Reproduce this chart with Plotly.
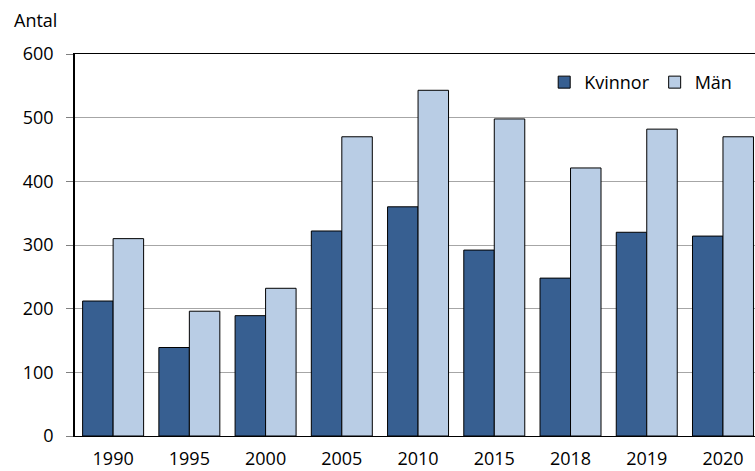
import plotly.graph_objects as go

# Antal per år och kön
years = ["1990", "1995", "2000", "2005", "2010", "2015", "2018", "2019", "2020"]
kvinnor = [212, 139, 189, 322, 360, 292, 248, 320, 314]
man = [310, 196, 232, 470, 543, 498, 421, 482, 470]

y_ticks = [0, 100, 200, 300, 400, 500, 600]

FONT = "Open Sans"

fig = go.Figure()
fig.add_trace(
    go.Bar(
        x=years,
        y=kvinnor,
        name="Kvinnor",
        marker=dict(color="#375F91", line=dict(color="#000000", width=1)),
    )
)
fig.add_trace(
    go.Bar(
        x=years,
        y=man,
        name="Män",
        marker=dict(color="#B9CDE5", line=dict(color="#000000", width=1)),
    )
)

fig.update_layout(
    width=755,
    height=471,
    margin=dict(l=75, r=0, t=54, b=35),
    paper_bgcolor="white",
    plot_bgcolor="white",
    font=dict(family=FONT, size=18, color="#000000"),
    barmode="group",
    bargap=0.2,
    bargroupgap=0,
    showlegend=True,
    legend=dict(
        orientation="h",
        x=0.69,
        y=0.974,
        xanchor="left",
        yanchor="top",
        bgcolor="rgba(0,0,0,0)",
        font=dict(family=FONT, size=18),
        itemwidth=30,
    ),
)

fig.update_xaxes(
    type="category",
    range=[-0.5, 8.42],
    automargin=False,
    showline=True,
    linecolor="#000000",
    linewidth=1,
    mirror=True,
    ticks="",
    showgrid=False,
    ticklabelstandoff=6,
    tickfont=dict(family=FONT, size=18),
)

fig.update_yaxes(
    range=[0, 600],
    tickvals=y_ticks,
    automargin=False,
    showline=True,
    linecolor="#000000",
    linewidth=1.5,
    ticks="outside",
    ticklen=7,
    tickcolor="#808080",
    showgrid=True,
    gridcolor="#A6A6A6",
    gridwidth=1,
    zeroline=False,
    ticklabelstandoff=9,
    tickfont=dict(family=FONT, size=18),
)

fig.add_annotation(
    text="Antal",
    xref="paper",
    yref="paper",
    x=-0.0925,
    y=1.089,
    xanchor="left",
    yanchor="middle",
    showarrow=False,
    font=dict(family=FONT, size=18),
)

# sidan utan standardmarginal, så att diagrammet fyller fönstret
fig.write_html(
    "out.html",
    config={"displayModeBar": False},
    post_script="document.body.style.margin='0';document.body.style.overflow='hidden';",
)
